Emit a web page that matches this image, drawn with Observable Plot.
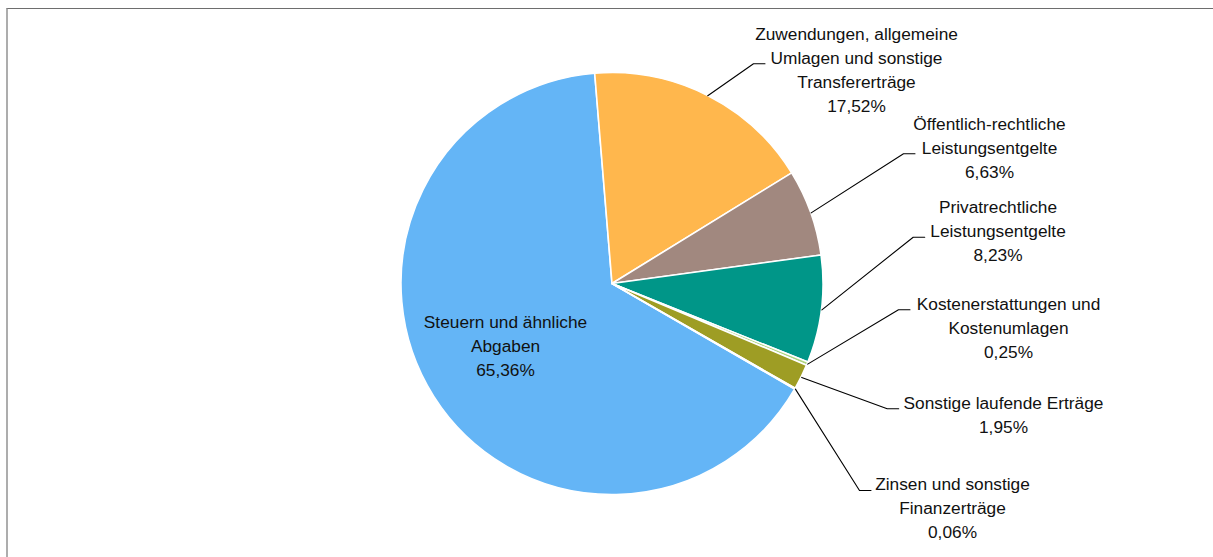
<!DOCTYPE html>
<html><head><meta charset="utf-8">
<script src="https://cdn.jsdelivr.net/npm/d3@7"></script>
<script src="https://cdn.jsdelivr.net/npm/@observablehq/plot@0.6"></script>
<style>
html,body{margin:0;padding:0;background:#fff;}
#wrap{position:relative;width:1213px;height:557px;overflow:hidden;}
#frame{position:absolute;left:6px;top:8px;right:-4px;bottom:-4px;border-top:1px solid #6e6e6e;border-left:2px solid #adadad;pointer-events:none;}
</style></head><body><div id="wrap"><div id="frame"></div></div>
<script>
// ---- data ----
const categories = [
  "Steuern und ähnliche Abgaben",
  "Zuwendungen, allgemeine Umlagen und sonstige Transfererträge",
  "Öffentlich-rechtliche Leistungsentgelte",
  "Privatrechtliche Leistungsentgelte",
  "Kostenerstattungen und Kostenumlagen",
  "Sonstige laufende Erträge",
  "Zinsen und sonstige Finanzerträge"
];
const values = [65.36, 17.52, 6.63, 8.23, 0.25, 1.95, 0.06];
const labelLines = [
  ["Steuern und ähnliche", "Abgaben"],
  ["Zuwendungen, allgemeine", "Umlagen und sonstige", "Transfererträge"],
  ["Öffentlich-rechtliche", "Leistungsentgelte"],
  ["Privatrechtliche", "Leistungsentgelte"],
  ["Kostenerstattungen und", "Kostenumlagen"],
  ["Sonstige laufende Erträge"],
  ["Zinsen und sonstige", "Finanzerträge"]
];
const colors = ["#64B5F6", "#FFB74D", "#A1887F", "#009688", "#AED581", "#9E9D24", "#8D6E63"];

// ---- layout (chart units = pixels) ----
const pieCenter = [612, 283.5];
const pieRadius = 211;
const startAngleDeg = 120;
const fontSize = 17.3;
const lineStep = 24;
const labelX = [505, 856, 989, 997.5, 1008, 1003, 952];
const labelBaseline = [327.7, 40, 130, 213, 309.3, 409, 490];
const elbowX = [null, 753, 903, 912.7, 898, 886.7, 859];
const elbowY = [null, 63.3, 153.3, 236.7, 309.3, 408.3, 490];
const hookLen = 11.5;

// ---- derived ----
const fmt = v => d3.format(".2f")(v).replace(".", ",") + "%";
const a0 = startAngleDeg * Math.PI / 180;
const arcs = d3.pie().sort(null).value(d => d).startAngle(a0).endAngle(a0 + 2 * Math.PI)(values);

const labels = categories.map((c, i) => ({
  key: c,
  tx: labelX[i],
  ty: labelBaseline[i] - 0.71 * lineStep,
  text: [...labelLines[i], fmt(values[i])].join("\n")
}));

const leaders = [];
arcs.forEach((a, i) => {
  if (elbowX[i] == null) return;
  const m = (a.startAngle + a.endAngle) / 2;
  const ex = pieCenter[0] + pieRadius * Math.sin(m);
  const ey = pieCenter[1] - pieRadius * Math.cos(m);
  leaders.push({key: categories[i], x: ex, y: ey});
  leaders.push({key: categories[i], x: elbowX[i], y: elbowY[i]});
  leaders.push({key: categories[i], x: elbowX[i] + hookLen, y: elbowY[i]});
});

function pieMark(...args) {
  const s = (args[0] && typeof args[0].x === "function") ? args[0] : args[1];
  const cx = s.x(pieCenter[0]), cy = s.y(pieCenter[1]);
  const r = s.x(pieCenter[0] + pieRadius) - cx;
  const g = d3.create("svg:g").attr("transform", `translate(${cx},${cy})`);
  const arc = d3.arc().innerRadius(0).outerRadius(r);
  g.selectAll("path").data(arcs).join("path")
    .attr("d", arc)
    .attr("fill", (d, i) => colors[i])
    .attr("stroke", "#fff")
    .attr("stroke-width", 1.6)
    .attr("stroke-linejoin", "round");
  return g.node();
}

const chart = Plot.plot({
  width: 1213,
  height: 557,
  margin: 0,
  x: {domain: [0, 1213], range: [0, 1213], axis: null},
  y: {domain: [0, 557], range: [0, 557], axis: null},
  style: {fontFamily: "'Liberation Sans', Arial, sans-serif", background: "transparent"},
  marks: [
    pieMark,
    Plot.line(leaders, {x: "x", y: "y", z: "key", stroke: "#000", strokeWidth: 1.1, curve: "linear"}),
    Plot.text(labels, {
      x: "tx", y: "ty", text: "text",
      textAnchor: "middle", lineAnchor: "top", lineHeight: lineStep / fontSize,
      fontSize: fontSize, fill: "#111"
    })
  ]
});
chart.style.position = "absolute";
chart.style.left = "0";
chart.style.top = "0";
document.getElementById("wrap").insertBefore(chart, document.getElementById("frame"));
</script>
</body></html>
